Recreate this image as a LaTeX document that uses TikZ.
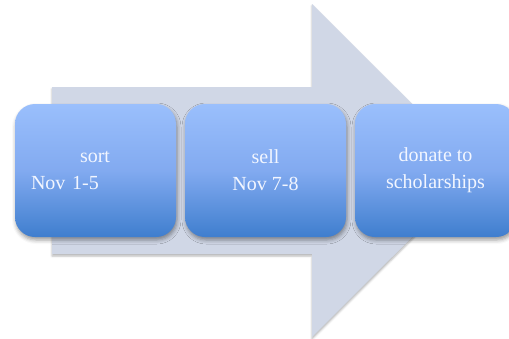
\documentclass[tikz,border=0pt]{standalone}
\usepackage{fontspec}
\setmainfont{Liberation Serif}
\usetikzlibrary{shadows.blur}
\definecolor{arrowgray}{HTML}{D0D7E6}
\definecolor{boxtop}{HTML}{9ABFFC}
\definecolor{boxmid}{HTML}{82AAF0}
\definecolor{boxbot}{HTML}{3F7ECE}
\definecolor{boxtext}{HTML}{F2F6FF}

\begin{document}
\begin{tikzpicture}[x=1pt,y=-1pt,
        stage/.style={rectangle,rounded corners=20pt,minimum width=161pt,minimum height=133pt,
            top color=boxtop,bottom color=boxbot,middle color=boxmid,text=boxtext,
            font=\fontsize{20}{27}\selectfont,align=center,
            blur shadow={shadow xshift=1pt,shadow yshift=-3pt,shadow blur radius=4pt,shadow opacity=40}}]
        \useasboundingbox (0,0) rectangle (509,338);
        \fill[arrowgray,blur shadow={shadow xshift=0pt,shadow yshift=-2pt,shadow blur radius=2pt,shadow opacity=30}]
            (52,87) -- (312,87) -- (312,4) -- (479,170.5) -- (312,337) -- (312,254) -- (52,254) -- cycle;
        \node[stage,text width=129pt,align=left] (sort) at (95.5,170.5) {\hspace*{49pt}sort\\Nov 1-5};
        \node[stage] (sell) at (265.5,170.5) {sell\\Nov 7-8};
        \node[stage] (donate) at (435.5,170.5) {donate to\\scholarships};
    \end{tikzpicture}
\end{document}
